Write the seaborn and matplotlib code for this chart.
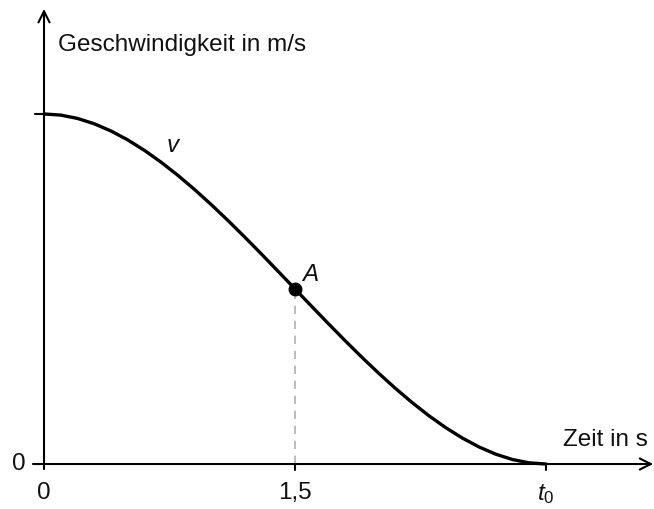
import matplotlib
matplotlib.use("Agg")
import matplotlib.pyplot as plt
import seaborn as sns
import pandas as pd

# Zeit (s) und Geschwindigkeit (m/s) entlang der Kurve v
zeit = [0.0, 0.1, 0.2, 0.3, 0.4, 0.5, 0.6, 0.7, 0.8, 0.9, 1.0,
        1.1, 1.2, 1.3, 1.4, 1.5, 1.6, 1.7, 1.8, 1.9, 2.0,
        2.1, 2.2, 2.3, 2.4, 2.5, 2.6, 2.7, 2.8, 2.9, 3.0]
geschwindigkeit = [27.0, 26.912, 26.656, 26.244, 25.688, 25.0, 24.192, 23.276, 22.264, 21.168, 20.0,
                   18.772, 17.496, 16.184, 14.848, 13.5, 12.152, 10.816, 9.504, 8.228, 7.0,
                   5.832, 4.736, 3.724, 2.808, 2.0, 1.312, 0.756, 0.344, 0.088, 0.0]

# Punkt A (Wendepunkt) und Endzeitpunkt t0
punkt_a = (1.5, 13.5)
t_null = 3.0
v_start = 27.0

x_ticks = [0, 1.5, t_null]
x_tick_labels = ["0", "1,5", "$t_{\\mathrm{0}}$"]

sns.set_theme(style="white")
plt.rcParams["font.family"] = ["Liberation Sans", "DejaVu Sans"]
plt.rcParams["text.color"] = "#111111"
plt.rcParams["mathtext.fontset"] = "custom"
plt.rcParams["mathtext.it"] = "Liberation Sans:italic"
plt.rcParams["mathtext.rm"] = "Liberation Sans"

fig = plt.figure(figsize=(6.54, 5.09), dpi=100)
ax = fig.add_axes([0, 0, 1, 1])
ax.set_xlim(-0.263, 3.645)
ax.set_ylim(-3.47, 35.79)
ax.axis("off")

df = pd.DataFrame({"t": zeit, "v": geschwindigkeit})
sns.lineplot(data=df, x="t", y="v", ax=ax, color="black", lw=2.4, zorder=3)

# Achsen mit Pfeilspitzen
arrow_kw = dict(arrowstyle="->", lw=1.5, color="black", mutation_scale=20, shrinkA=0, shrinkB=0)
ax.annotate("", xy=(3.64, 0), xytext=(-0.066, 0), arrowprops=arrow_kw)
ax.annotate("", xy=(0, 35.1), xytext=(0, -0.39), arrowprops=arrow_kw)

# Markierungen an den Achsen
ax.plot([-0.054, 0], [v_start, v_start], color="black", lw=1.5)
for xt in x_ticks[1:]:
    ax.plot([xt, xt], [0, -0.46], color="black", lw=1.5)

# Hilfslinie von A zur Zeitachse
ax.plot([punkt_a[0], punkt_a[0]], [0, punkt_a[1]], color="#b0b0b0", lw=1.2,
        ls=(0, (5, 4)), zorder=2)
ax.plot([punkt_a[0]], [punkt_a[1]], "o", color="black", ms=9, zorder=4)

fs = 17.5
for xt, lab in zip(x_ticks, x_tick_labels):
    ax.text(xt, -1.4, lab, ha="center", va="top", fontsize=fs)
ax.text(-0.11, 0, "0", ha="right", va="center", fontsize=fs)

ax.text(0.085, 32.3, "Geschwindigkeit in m/s", ha="left", va="center", fontsize=fs)
ax.text(3.61, 1.85, "Zeit in s", ha="right", va="center", fontsize=fs)
ax.text(0.775, 24.5, "$v$", ha="center", va="center", fontsize=fs)
ax.text(1.59, 14.6, "$A$", ha="center", va="center", fontsize=fs)

fig.savefig("out.png", dpi=100)
